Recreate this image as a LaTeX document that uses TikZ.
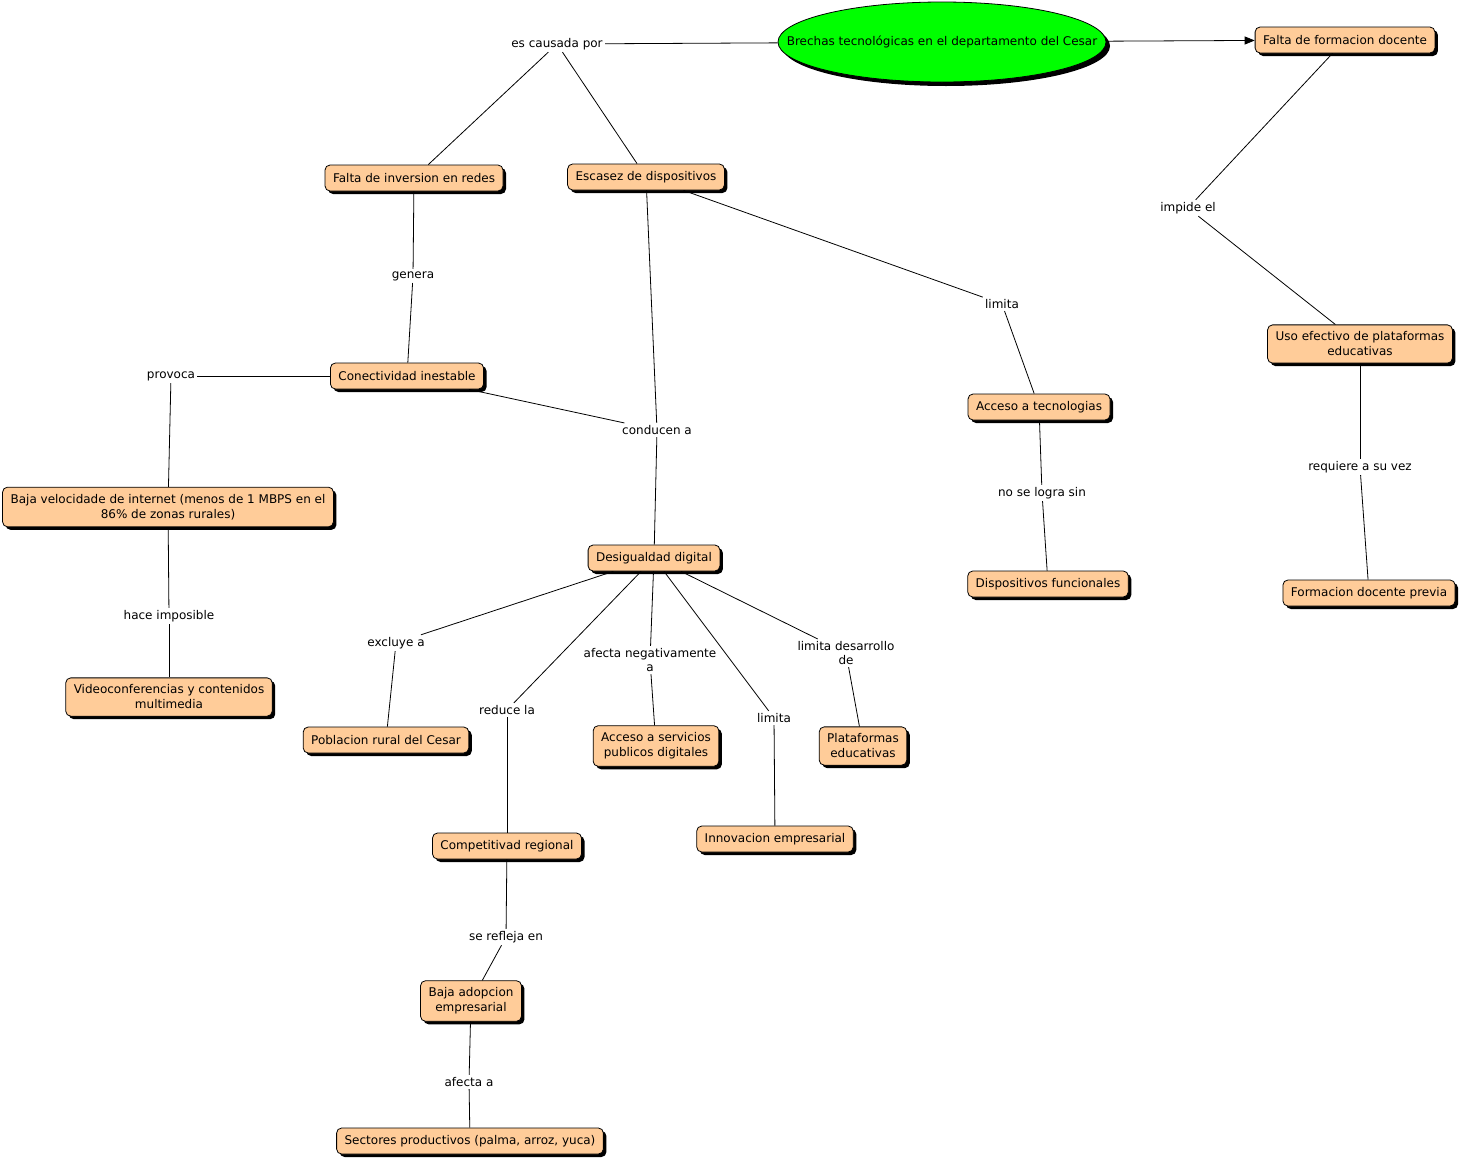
\documentclass[tikz,border=0pt]{standalone}
\usepackage{fontspec}
\setmainfont{DejaVu Sans}
\usetikzlibrary{shapes.geometric,shadows,arrows.meta}
\definecolor{naranja}{RGB}{255,204,153}
\definecolor{verde}{RGB}{0,255,0}
\tikzset{
  concepto/.style={draw, rounded corners=5pt, fill=naranja, align=center,
    inner xsep=8pt, inner ysep=7pt, minimum height=26pt,
    drop shadow={shadow xshift=3pt, shadow yshift=-3pt, fill=black, opacity=1}},
  raiz/.style={ellipse, draw, fill=verde, minimum width=328pt, minimum height=80pt,
    inner xsep=-60pt, inner ysep=0pt,
    drop shadow={shadow xshift=4pt, shadow yshift=-4pt, fill=black, opacity=1}},
  enlace/.style={align=center, inner sep=2pt, font=\fontsize{12}{14}\selectfont}
}
\begin{document}
\begin{tikzpicture}[x=1pt, y=-1pt, line width=0.8pt, >={Triangle[length=10pt,width=8pt]}, font=\fontsize{12}{15}\selectfont]
\useasboundingbox (0,0) rectangle (1461,1162);

% --- Concepto principal ---
\node[raiz] (brechas) at (942,42) {Brechas tecnológicas en el departamento del Cesar};

% --- Conceptos ---
\node[concepto] (formacion) at (1345,40) {Falta de formacion docente};
\node[concepto] (inversion) at (414,178) {Falta de inversion en redes};
\node[concepto] (escasez) at (646,177) {Escasez de dispositivos};
\node[concepto] (conectividad) at (407,376) {Conectividad inestable};
\node[concepto] (velocidad) at (168,507) {Baja velocidade de internet (menos de 1 MBPS en el\\86\% de zonas rurales)};
\node[concepto] (video) at (169,697) {Videoconferencias y contenidos\\multimedia};
\node[concepto] (desigualdad) at (654,558) {Desigualdad digital};
\node[concepto] (poblacion) at (386,740) {Poblacion rural del Cesar};
\node[concepto] (servicios) at (656,746) {Acceso a servicios\\publicos digitales};
\node[concepto] (plataformas) at (863,746) {Plataformas\\educativas};
\node[concepto] (innovacion) at (775,839) {Innovacion empresarial};
\node[concepto] (competitividad) at (507,846) {Competitivad regional};
\node[concepto] (adopcion) at (471,1001) {Baja adopcion\\empresarial};
\node[concepto] (sectores) at (470,1141) {Sectores productivos (palma, arroz, yuca)};
\node[concepto] (tecnologias) at (1039,407) {Acceso a tecnologias};
\node[concepto] (funcionales) at (1048,584) {Dispositivos funcionales};
\node[concepto] (uso) at (1360,344) {Uso efectivo de plataformas\\educativas};
\node[concepto] (previa) at (1369,593) {Formacion docente previa};

% --- Frases de enlace ---
\node[enlace] (causada) at (557,44) {es causada por};
\node[enlace] (genera) at (413,276) {genera};
\node[enlace] (limitaA) at (1002,304) {limita};
\node[enlace] (provoca) at (171,376) {provoca};
\node[enlace] (conducen) at (657,430) {conducen a};
\node[enlace] (imposible) at (169,616) {hace imposible};
\node[enlace] (logra) at (1042,493) {no se logra sin};
\node[enlace] (impide) at (1188,208) {impide el};
\node[enlace] (requiere) at (1360,467) {requiere a su vez};
\node[enlace] (excluye) at (396,643) {excluye a};
\node[enlace] (reduce) at (507,710) {reduce la};
\node[enlace] (afectaN) at (650,660) {afecta negativamente\\a};
\node[enlace] (desarrollo) at (846,653) {limita desarrollo\\de};
\node[enlace] (limitaB) at (774,718) {limita};
\node[enlace] (refleja) at (506,937) {se refleja en};
\node[enlace] (afecta) at (469,1082) {afecta a};

% --- Conexiones ---
\draw[->] (brechas) -- (formacion);
\foreach \a/\b in {brechas/causada, causada/inversion, causada/escasez,
    formacion/impide, impide/uso, uso/requiere, requiere/previa,
    inversion/genera, genera/conectividad, conectividad/provoca, provoca/velocidad,
    velocidad/imposible, imposible/video, conectividad/conducen, escasez/conducen,
    conducen/desigualdad, escasez/limitaA, limitaA/tecnologias, tecnologias/logra,
    logra/funcionales, desigualdad/excluye, excluye/poblacion, desigualdad/reduce,
    reduce/competitividad, desigualdad/afectaN, afectaN/servicios, desigualdad/limitaB,
    limitaB/innovacion, desigualdad/desarrollo, desarrollo/plataformas,
    competitividad/refleja, refleja/adopcion, adopcion/afecta, afecta/sectores}{
  \draw (\a) -- (\b);
}

\end{tikzpicture}
\end{document}
